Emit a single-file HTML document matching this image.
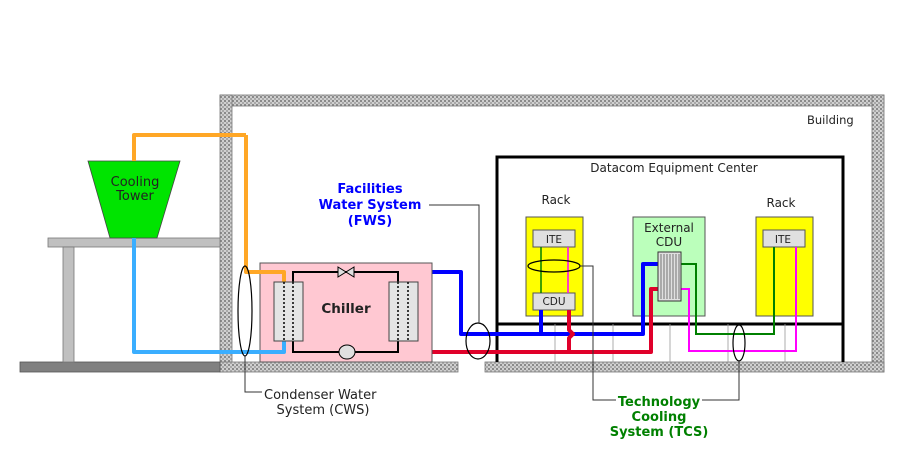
<!DOCTYPE html>
<html><head><meta charset="utf-8"><style>
html,body{margin:0;padding:0;background:#fff;}
svg{display:block;font-family:"DejaVu Sans","Liberation Sans",sans-serif;}
</style></head><body>
<svg width="920" height="466" viewBox="0 0 920 466" xmlns="http://www.w3.org/2000/svg">
<defs>
<pattern id="hatch" width="4" height="4" patternUnits="userSpaceOnUse">
<rect width="4" height="4" fill="#d0d0d0"/>
<rect width="2" height="2" fill="#8a8a8a"/>
<rect x="2" y="2" width="2" height="2" fill="#a8a8a8"/>
</pattern>
</defs>
<rect x="220" y="95" width="664" height="11" fill="url(#hatch)" stroke="#777" stroke-width="0.8"/>
<rect x="220" y="95" width="12" height="277" fill="url(#hatch)" stroke="#777" stroke-width="0.8"/>
<rect x="872" y="95" width="12" height="277" fill="url(#hatch)" stroke="#777" stroke-width="0.8"/>
<rect x="220" y="362" width="238" height="10" fill="url(#hatch)" stroke="#777" stroke-width="0.8"/>
<rect x="485" y="362" width="399" height="10" fill="url(#hatch)" stroke="#777" stroke-width="0.8"/>
<text x="807" y="124" font-size="11.5" fill="#222">Building</text>
<rect x="20" y="362" width="200" height="10" fill="#808080" stroke="#555" stroke-width="0.8"/>
<rect x="48" y="238" width="172" height="9" fill="#c0c0c0" stroke="#777" stroke-width="0.8"/>
<rect x="63" y="247" width="11" height="115" fill="#c0c0c0" stroke="#777" stroke-width="0.8"/>
<polygon points="88,161 180,161 157,238 110,238" fill="#00e400" stroke="#444" stroke-width="0.8"/>
<text x="135" y="186" font-size="13" text-anchor="middle" fill="#222">Cooling</text>
<text x="135" y="200" font-size="13" text-anchor="middle" fill="#222">Tower</text>
<polyline points="497,362 497,157 843,157 843,362" fill="none" stroke="#000" stroke-width="3"/>
<line x1="497" y1="324" x2="843" y2="324" stroke="#000" stroke-width="3"/>
<g stroke="#999" stroke-width="0.8">
<line x1="555" y1="324" x2="555" y2="362"/><line x1="613" y1="324" x2="613" y2="362"/>
<line x1="670" y1="324" x2="670" y2="362"/><line x1="728" y1="324" x2="728" y2="362"/>
<line x1="785" y1="324" x2="785" y2="362"/>
</g>
<text x="674" y="172" font-size="12" text-anchor="middle" fill="#222">Datacom Equipment Center</text>
<text x="556" y="204" font-size="12" text-anchor="middle" fill="#222">Rack</text>
<text x="781" y="207" font-size="12" text-anchor="middle" fill="#222">Rack</text>
<rect x="526" y="217" width="57" height="99" fill="#ffff00" stroke="#555"/>
<rect x="533" y="230" width="42" height="17" fill="#e0e0e0" stroke="#555"/>
<text x="554" y="243" font-size="10.5" text-anchor="middle" fill="#222">ITE</text>
<rect x="533" y="293" width="42" height="17" fill="#e0e0e0" stroke="#555"/>
<text x="554" y="305" font-size="10.5" text-anchor="middle" fill="#222">CDU</text>
<line x1="541" y1="247" x2="541" y2="293" stroke="#008000" stroke-width="1.5"/>
<line x1="568" y1="247" x2="568" y2="293" stroke="#ff00ff" stroke-width="1.5"/>
<ellipse cx="554" cy="266" rx="26" ry="6" fill="none" stroke="#000" stroke-width="1.2"/>
<rect x="756" y="217" width="57" height="99" fill="#ffff00" stroke="#555"/>
<rect x="763" y="230" width="42" height="17" fill="#e0e0e0" stroke="#555"/>
<text x="783" y="243" font-size="10.5" text-anchor="middle" fill="#222">ITE</text>
<rect x="633" y="217" width="72" height="99" fill="#bbffbb" stroke="#555"/>
<text x="669" y="232" font-size="12" text-anchor="middle" fill="#222">External</text>
<text x="669" y="246" font-size="12" text-anchor="middle" fill="#222">CDU</text>
<polyline points="681,264 696,264 696,334 774,334 774,247" fill="none" stroke="#008000" stroke-width="2"/>
<polyline points="681,289 689,289 689,351 796,351 796,247" fill="none" stroke="#ff00ff" stroke-width="2"/>
<polyline points="408,282 408,272 461,272 461,334 643,334 643,264 658,264" fill="none" stroke="#0000ff" stroke-width="4" stroke-linejoin="round"/>
<line x1="541" y1="310" x2="541" y2="334" stroke="#0000ff" stroke-width="4"/>
<polyline points="408,341 408,352 651,352 651,289 658,289" fill="none" stroke="#e0002a" stroke-width="4" stroke-linejoin="round"/>
<polyline points="569,310 569,330 573,334 569,338 569,352" fill="none" stroke="#e0002a" stroke-width="4" stroke-linejoin="round"/>
<rect x="658" y="252" width="23" height="49" fill="#e0e0e0" stroke="#333"/>
<g stroke="#444" stroke-width="0.7">
<line x1="661" y1="254" x2="661" y2="299"/><line x1="664" y1="254" x2="664" y2="299"/><line x1="667" y1="254" x2="667" y2="299"/>
<line x1="670" y1="254" x2="670" y2="299"/><line x1="673" y1="254" x2="673" y2="299"/><line x1="676" y1="254" x2="676" y2="299"/><line x1="679" y1="254" x2="679" y2="299"/>
</g>
<rect x="260" y="263" width="172" height="99" fill="#ffc8d2" stroke="#555"/>
<polyline points="246,135 246,272 284,272 284,282" fill="none" stroke="#ffa726" stroke-width="4" stroke-linejoin="round"/>
<polyline points="134,161 134,135 246,135" fill="none" stroke="#ffa726" stroke-width="4" stroke-linejoin="round"/>
<polyline points="134,238 134,352 284,352 284,341" fill="none" stroke="#3aaeff" stroke-width="4" stroke-linejoin="round"/>
<rect x="293" y="272" width="105" height="80" fill="none" stroke="#000" stroke-width="2"/>
<rect x="274" y="282" width="29" height="59" fill="#e4e4e4" stroke="#444"/>
<rect x="389" y="282" width="29" height="59" fill="#e4e4e4" stroke="#444"/>
<g stroke="#000" stroke-width="1.5" stroke-dasharray="2,2">
<line x1="284" y1="282" x2="284" y2="341"/><line x1="293" y1="282" x2="293" y2="341"/>
<line x1="398" y1="282" x2="398" y2="341"/><line x1="408" y1="282" x2="408" y2="341"/>
</g>
<polygon points="338,267 346,272 338,277" fill="#e0e0e0" stroke="#000"/>
<polygon points="354,267 346,272 354,277" fill="#e0e0e0" stroke="#000"/>
<ellipse cx="347" cy="352" rx="8" ry="7" fill="#e0e0e0" stroke="#000"/>
<text x="346" y="313" font-size="13.5" font-weight="bold" text-anchor="middle" fill="#222">Chiller</text>
<ellipse cx="245" cy="311" rx="7" ry="45" fill="none" stroke="#000" stroke-width="1.2"/>
<polyline points="245,356 245,392 262,392" fill="none" stroke="#333"/>
<text x="264" y="399" font-size="13" fill="#222">Condenser Water</text>
<text x="323" y="414" font-size="13" text-anchor="middle" fill="#222">System (CWS)</text>
<ellipse cx="478" cy="341" rx="12" ry="18" fill="none" stroke="#000" stroke-width="1.2"/>
<polyline points="429,205 479,205 479,323" fill="none" stroke="#333"/>
<text x="370" y="193" font-size="13" font-weight="bold" text-anchor="middle" fill="#0000ff">Facilities</text>
<text x="370" y="209" font-size="13" font-weight="bold" text-anchor="middle" fill="#0000ff">Water System</text>
<text x="370" y="225" font-size="13" font-weight="bold" text-anchor="middle" fill="#0000ff">(FWS)</text>
<polyline points="580,266 593,266 593,400 616,400" fill="none" stroke="#333"/>
<ellipse cx="739" cy="343" rx="6" ry="18" fill="none" stroke="#000" stroke-width="1.2"/>
<polyline points="739,361 739,400 702,400" fill="none" stroke="#333"/>
<text x="659" y="406" font-size="13" font-weight="bold" text-anchor="middle" fill="#008000">Technology</text>
<text x="659" y="421" font-size="13" font-weight="bold" text-anchor="middle" fill="#008000">Cooling</text>
<text x="659" y="436" font-size="13" font-weight="bold" text-anchor="middle" fill="#008000">System (TCS)</text>
</svg>
</body></html>
